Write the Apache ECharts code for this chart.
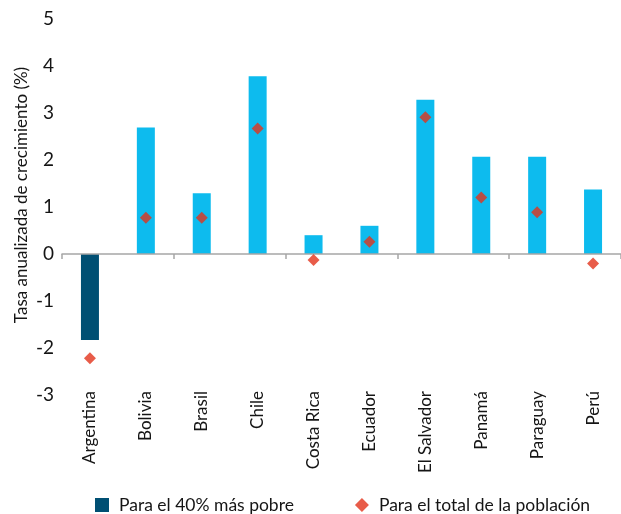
<!DOCTYPE html>
<html>
<head>
<meta charset="utf-8">
<script src="https://cdn.jsdelivr.net/npm/echarts@6/dist/echarts.min.js"></script>
<style>
  html, body { margin: 0; padding: 0; background: #fff; }
  #chart { width: 621px; height: 514px; }
</style>
</head>
<body>
<div id="chart"></div>
<script>
// Annualized growth rate by country (%)
const categories = ['Argentina', 'Bolivia', 'Brasil', 'Chile', 'Costa Rica', 'Ecuador', 'El Salvador', 'Panamá', 'Paraguay', 'Perú'];
const poorest40 = [-1.83, 2.69, 1.29, 3.78, 0.4, 0.6, 3.28, 2.07, 2.07, 1.37];
const totalPop = [-2.22, 0.77, 0.77, 2.67, -0.13, 0.26, 2.91, 1.2, 0.89, -0.2];
const yTicks = { min: -3, max: 5, step: 1 };

const seriesNames = ['Para el 40% más pobre', 'Para el total de la población'];
const axisTitle = 'Tasa anualizada de crecimiento (%)';

const DARK = '#004f73';
const LIGHT = '#0dbbee';
const RED = '#e2331b';
const TEXT = '#151515';
const FONT = 'Lato';

const chart = echarts.init(document.getElementById('chart'), null, { renderer: 'canvas' });

chart.setOption({
  animation: false,
  textStyle: { fontFamily: FONT, color: TEXT },
  grid: { left: 62, right: 0, top: 19, height: 376 },
  legend: {
    left: 95,
    top: 496,
    padding: 0,
    itemWidth: 14,
    itemHeight: 14,
    itemGap: 61,
    textStyle: { fontFamily: FONT, fontSize: 17.5, color: TEXT, padding: [0, 0, 0, 5] },
    data: [
      { name: seriesNames[0], icon: 'rect', itemStyle: { color: DARK } },
      { name: seriesNames[1], icon: 'diamond', itemStyle: { color: RED } }
    ]
  },
  graphic: [{
    type: 'text',
    x: 22,
    y: 195,
    rotation: Math.PI / 2,
    style: {
      text: axisTitle,
      fontFamily: FONT,
      fontSize: 17,
      fill: TEXT,
      align: 'center',
      verticalAlign: 'middle'
    }
  }],
  xAxis: [
    {
      // zero line with category ticks
      type: 'category',
      data: categories,
      z: 10,
      axisLine: { onZero: true, lineStyle: { color: '#a6a6a6', width: 1.5 } },
      axisTick: { show: true, length: 5, lineStyle: { color: '#a6a6a6', width: 1.5 } },
      axisLabel: { show: false },
      splitLine: { show: false }
    },
    {
      // country names along the bottom
      type: 'category',
      data: categories,
      position: 'bottom',
      axisLine: { show: false, onZero: false },
      axisTick: { show: false },
      axisLabel: {
        rotate: 90,
        margin: -4,
        fontFamily: FONT,
        fontSize: 17,
        color: TEXT,
        interval: 0
      },
      splitLine: { show: false }
    }
  ],
  yAxis: {
    type: 'value',
    min: yTicks.min,
    max: yTicks.max,
    interval: yTicks.step,
    axisLine: { show: false },
    axisTick: { show: false },
    splitLine: { show: false },
    axisLabel: { margin: 8, fontFamily: FONT, fontSize: 19, color: TEXT }
  },
  series: [
    {
      name: seriesNames[0],
      type: 'bar',
      xAxisIndex: 0,
      barWidth: 18,
      itemStyle: { color: DARK },
      data: poorest40.map((v, i) => ({
        value: v,
        itemStyle: { color: i === 0 ? DARK : LIGHT }
      }))
    },
    {
      name: seriesNames[1],
      type: 'scatter',
      xAxisIndex: 0,
      symbol: 'diamond',
      symbolSize: 12,
      z: 12,
      itemStyle: { color: RED },
      data: totalPop
    }
  ]
});
</script>
</body>
</html>
